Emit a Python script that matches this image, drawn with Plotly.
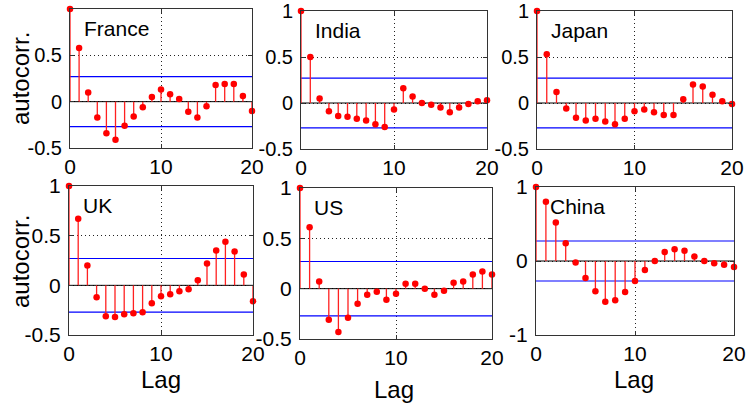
import plotly.graph_objects as go

W, H = 746, 406

lags = list(range(21))
countries = ["France", "India", "Japan", "UK", "US", "China"]

france = [1, 0.58, 0.10, -0.17, -0.34, -0.41, -0.26, -0.16, -0.06, 0.05, 0.13,
          0.08, 0.03, -0.11, -0.17, -0.05, 0.18, 0.19, 0.19, 0.06, -0.10]
india = [1, 0.50, 0.05, -0.09, -0.14, -0.15, -0.17, -0.19, -0.23, -0.26, -0.07,
         0.16, 0.07, 0.00, -0.02, -0.05, -0.10, -0.05, -0.01, 0.02, 0.03]
japan = [1, 0.53, 0.12, -0.06, -0.16, -0.19, -0.17, -0.20, -0.23, -0.17, -0.09,
         -0.07, -0.10, -0.13, -0.13, 0.04, 0.20, 0.18, 0.09, 0.02, -0.01]
uk = [1, 0.67, 0.20, -0.12, -0.31, -0.32, -0.29, -0.28, -0.27, -0.18, -0.11,
      -0.09, -0.06, -0.04, 0.05, 0.22, 0.35, 0.44, 0.34, 0.11, -0.16]
us = [1, 0.61, 0.07, -0.31, -0.43, -0.29, -0.15, -0.06, -0.03, -0.11, -0.05,
      0.05, 0.05, 0.00, -0.06, -0.02, 0.06, 0.07, 0.14, 0.17, 0.14]
china = [1, 0.80, 0.52, 0.24, -0.02, -0.23, -0.41, -0.55, -0.53, -0.42, -0.27,
         -0.12, 0.00, 0.12, 0.16, 0.14, 0.06, 0.00, -0.03, -0.05, -0.08]
series = [france, india, japan, uk, us, china]

conf_bound = 0.27

y_ranges = [[-0.5, 1]] * 5 + [[-1, 1]]
y_ticks = [[-0.5, 0, 0.5, 1]] * 5 + [[-1, 0, 1]]
y_ticktext = [["-0.5", "0", "0.5", "1"]] * 5 + [["-1", "0", "1"]]
x_ticks = [0, 10, 20]
x_ticktext = ["0", "10", "20"]

# panel boxes in pixels: (left, right, top, bottom)
boxes = [(70, 252, 9, 148), (301, 487, 11, 149), (537, 732, 11, 149),
         (69, 253, 186, 335), (300, 492, 188, 339), (536, 734, 187, 335)]

FONT = "Liberation Sans, Arial, sans-serif"
fig = go.Figure()
layout = dict(width=W, height=H, margin=dict(l=0, r=0, t=0, b=0),
              paper_bgcolor="white", plot_bgcolor="white", showlegend=False,
              font=dict(family=FONT, color="black"))
annotations = []

for i, (name, vals) in enumerate(zip(countries, series)):
    k = "" if i == 0 else str(i + 1)
    xa, ya = "x" + k, "y" + k
    l, r, t, b = boxes[i]
    common = dict(ticks="inside", ticklen=4, tickcolor="#333", showline=True,
                  linecolor="#333", linewidth=1, mirror="ticks", showgrid=True,
                  gridcolor="#222", griddash="1px,3px", gridwidth=1, zeroline=False,
                  automargin=False, layer="above traces")
    ysize = 20 if i < 3 else 21
    layout["xaxis" + k] = dict(domain=[l / W, r / W], range=[0, 20], anchor=ya,
                               tickvals=x_ticks, ticktext=x_ticktext,
                               tickfont=dict(size=21, family=FONT, color="black"),
                               **common)
    layout["yaxis" + k] = dict(domain=[1 - b / H, 1 - t / H], range=y_ranges[i],
                               anchor=xa, tickvals=y_ticks[i],
                               ticktext=y_ticktext[i], ticklabelstandoff=3,
                               tickfont=dict(size=ysize, family=FONT, color="black"),
                               **common)
    # confidence bounds
    for cb in (conf_bound, -conf_bound):
        fig.add_trace(go.Scatter(x=[0, 20], y=[cb, cb], mode="lines",
                                 line=dict(color="blue", width=1.2),
                                 xaxis=xa, yaxis=ya, hoverinfo="skip"))
    # baseline
    fig.add_trace(go.Scatter(x=[0, 20], y=[0, 0], mode="lines",
                             line=dict(color="black", width=1),
                             xaxis=xa, yaxis=ya, hoverinfo="skip"))
    # stems
    sx, sy = [], []
    for lg, v in zip(lags, vals):
        sx += [lg, lg, None]
        sy += [0, v, None]
    fig.add_trace(go.Scatter(x=sx, y=sy, mode="lines",
                             line=dict(color="#ff2020", width=1.3),
                             xaxis=xa, yaxis=ya, hoverinfo="skip"))
    # markers
    fig.add_trace(go.Scatter(x=lags, y=vals, mode="markers",
                             marker=dict(color="red", size=6.5),
                             cliponaxis=False, xaxis=xa, yaxis=ya, name=name))
    # country label
    annotations.append(dict(text=name, xref="paper", yref="paper",
                            x=(l + 12) / W, y=1 - (t + 19) / H,
                            xanchor="left", yanchor="middle", showarrow=False,
                            font=dict(size=21, family=FONT, color="black")))

# axis titles
for yc in (79, 262):
    annotations.append(dict(text="autocorr.", xref="paper", yref="paper",
                            x=20 / W, y=1 - yc / H, textangle=-90,
                            xanchor="center", yanchor="middle", showarrow=False,
                            font=dict(size=24, family=FONT, color="black")))
for xc, yc in ((161, 379), (394, 389), (634, 379)):
    annotations.append(dict(text="Lag", xref="paper", yref="paper",
                            x=xc / W, y=1 - yc / H,
                            xanchor="center", yanchor="middle", showarrow=False,
                            font=dict(size=24, family=FONT, color="black")))

layout["annotations"] = annotations
fig.update_layout(**layout)
fig.write_html("out.html", config={"displayModeBar": False},
               post_script="document.body.style.margin='0';"
                           "document.body.style.overflow='hidden';")
